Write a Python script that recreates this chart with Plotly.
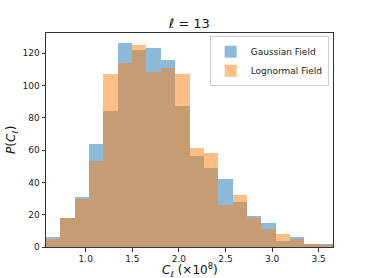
import plotly.graph_objects as go

# Histogram data (20 bins, C_ell in units of 1e8)
bin_start = 0.574
bin_width = 0.154
gaussian_counts = [6, 18, 31, 64, 84, 126, 122, 123, 116, 87, 56, 49, 42, 28, 19, 15, 4, 6, 2, 2]
lognormal_counts = [5, 18, 30, 53, 107, 114, 125, 108, 111, 107, 61, 58, 26, 32, 18, 11, 8, 5, 2, 1]
x_ticks = [1.0, 1.5, 2.0, 2.5, 3.0, 3.5]
y_ticks = [0, 20, 40, 60, 80, 100, 120]

n = len(gaussian_counts)
centers = [bin_start + bin_width * (i + 0.5) for i in range(n)]
x_end = bin_start + bin_width * n

fig = go.Figure()
fig.add_trace(go.Bar(x=centers, y=gaussian_counts, width=bin_width, name="Gaussian Field",
                     marker=dict(color="#1f77b4", line=dict(width=0)), opacity=0.5))
fig.add_trace(go.Bar(x=centers, y=lognormal_counts, width=bin_width, name="Lognormal Field",
                     marker=dict(color="#ff7f0e", line=dict(width=0)), opacity=0.5))

axis_common = dict(showline=True, linecolor="#333333", linewidth=1, mirror=True,
                   ticks="outside", ticklen=3.5, tickwidth=1, tickcolor="#333333",
                   showgrid=False, zeroline=False, automargin=False,
                   tickfont=dict(family="DejaVu Sans", size=9, color="#222222"))

label_font = dict(family="DejaVu Sans", size=12, color="#111111")

fig.update_layout(
    width=371, height=278,
    margin=dict(l=46, r=38, t=33, b=31, autoexpand=False),
    paper_bgcolor="white", plot_bgcolor="white",
    barmode="overlay", bargap=0,
    title=dict(text="<i>ℓ</i> = 13", x=0.51, xanchor="center", y=0.915, yanchor="middle",
               font=dict(family="DejaVu Sans", size=13, color="#111111")),
    xaxis=dict(range=[bin_start, x_end], tickvals=x_ticks, ticktext=[f"{v:.1f}" for v in x_ticks],
               **axis_common),
    yaxis=dict(range=[0, 132.4], tickvals=y_ticks, **axis_common),
    legend=dict(x=0.985, y=0.985, xanchor="right", yanchor="top",
                bgcolor="rgba(255,255,255,0.8)", bordercolor="#cccccc", borderwidth=1,
                font=dict(family="DejaVu Sans", size=9, color="#222222"),
                tracegroupgap=0, itemsizing="constant", itemwidth=30),
    showlegend=True,
    annotations=[
        dict(text="<i>C</i><sub><i>ℓ</i></sub> (×10<sup>8</sup>)", xref="paper", yref="paper",
             x=0.5, y=0, xanchor="center", yanchor="middle", yshift=-22.5, showarrow=False,
             font=label_font),
        dict(text="<i>P</i>(<i>C</i><sub><i>ℓ</i></sub>)", xref="paper", yref="paper",
             x=0, y=0.5, xanchor="center", yanchor="middle", xshift=-34, textangle=-90,
             showarrow=False, font=label_font),
    ],
)

fig.write_html("out.html", config={"displayModeBar": False},
               post_script="document.body.style.margin='0';document.body.style.padding='0';")
